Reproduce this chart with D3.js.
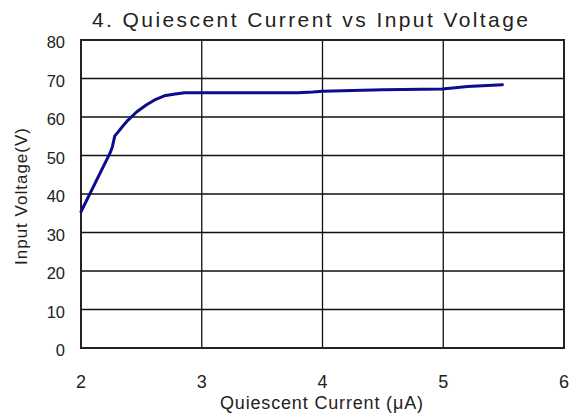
<!DOCTYPE html>
<html>
<head>
<meta charset="utf-8">
<script src="https://cdn.jsdelivr.net/npm/d3@7"></script>
<style>
  body { margin: 0; background: #fff; }
  text { font-family: "Liberation Sans", Arial, sans-serif; fill: #222; }
</style>
</head>
<body>
<svg width="581" height="417"></svg>
<script>
const current = [2.0, 2.24, 2.26, 2.28, 2.31, 2.35, 2.39, 2.46, 2.54, 2.62, 2.69, 2.78, 2.86, 3.2, 3.6, 3.8, 3.92, 4.0, 4.5, 4.99, 5.1, 5.2, 5.49];
const voltage = [35.4, 50.6, 52.3, 55.1, 56.2, 57.8, 59.2, 61.3, 63.1, 64.6, 65.5, 66.0, 66.3, 66.3, 66.3, 66.3, 66.5, 66.7, 67.1, 67.3, 67.6, 67.9, 68.4];
const xTicks = [2, 3, 4, 5, 6];
const yTicks = [0, 10, 20, 30, 40, 50, 60, 70, 80];

const svg = d3.select("svg");

const x = d3.scaleLinear().domain([2, 6]).range([81, 564]);
const y = d3.scaleLinear().domain([0, 80]).range([348, 40]);

// grid
svg.append("g")
  .selectAll("line.h")
  .data(yTicks)
  .enter().append("line")
  .attr("x1", x.range()[0]).attr("x2", x.range()[1])
  .attr("y1", d => y(d)).attr("y2", d => y(d))
  .attr("stroke", "#111").attr("stroke-width", 1.3);

svg.append("g")
  .selectAll("line.v")
  .data(xTicks)
  .enter().append("line")
  .attr("x1", d => x(d)).attr("x2", d => x(d))
  .attr("y1", y.range()[0]).attr("y2", y.range()[1])
  .attr("stroke", "#111").attr("stroke-width", 1.3);

// frame
svg.append("rect")
  .attr("x", x.range()[0]).attr("y", y.range()[1])
  .attr("width", x.range()[1] - x.range()[0])
  .attr("height", y.range()[0] - y.range()[1])
  .attr("fill", "none").attr("stroke", "#222").attr("stroke-width", 2);

// tick labels
svg.append("g")
  .selectAll("text")
  .data(yTicks)
  .enter().append("text")
  .attr("x", 65)
  .attr("y", d => y(d) + 8)
  .attr("text-anchor", "end")
  .attr("font-size", 16.5)
  .text(d => d);

svg.append("g")
  .selectAll("text")
  .data(xTicks)
  .enter().append("text")
  .attr("x", d => x(d))
  .attr("y", 388)
  .attr("text-anchor", "middle")
  .attr("font-size", 18)
  .text(d => d);

// curve
const line = d3.line()
  .x(d => x(d[0]))
  .y(d => y(d[1]))
  .curve(d3.curveLinear);

svg.append("path")
  .datum(d3.zip(current, voltage))
  .attr("d", line)
  .attr("fill", "none")
  .attr("stroke", "#0c0c8c")
  .attr("stroke-width", 3)
  .attr("stroke-linejoin", "round")
  .attr("stroke-linecap", "round");

// titles
svg.append("text")
  .attr("x", 310).attr("y", 27)
  .attr("text-anchor", "middle")
  .attr("font-size", 21)
  .attr("textLength", 436)
  .attr("lengthAdjust", "spacing")
  .attr("fill", "#333")
  .text("4. Quiescent Current vs Input Voltage");

svg.append("text")
  .attr("x", 321.5).attr("y", 409)
  .attr("text-anchor", "middle")
  .attr("font-size", 18)
  .attr("textLength", 203)
  .attr("lengthAdjust", "spacing")
  .text("Quiescent Current (μA)");

svg.append("text")
  .attr("transform", "translate(27,196.5) rotate(-90)")
  .attr("text-anchor", "middle")
  .attr("font-size", 17)
  .attr("textLength", 137)
  .attr("lengthAdjust", "spacing")
  .text("Input Voltage(V)");
</script>
</body>
</html>
